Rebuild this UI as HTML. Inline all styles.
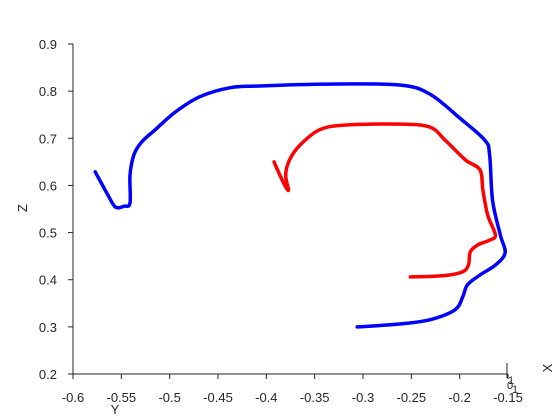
<!DOCTYPE html>
<html><head><meta charset="utf-8"><style>
body{margin:0;background:#fff;}
svg{display:block;font-family:"Liberation Sans",sans-serif;}
text{fill:#262626;font-size:13px;}
</style></head><body>
<svg id="chart" width="560" height="420" viewBox="0 0 560 420" xmlns="http://www.w3.org/2000/svg">
<g id="axes"></g>
<g id="series"></g>
<text x="0" y="0" transform="translate(27,208) rotate(-90)" text-anchor="middle">Z</text>
<text x="115" y="414" text-anchor="middle">Y</text>
<text x="0" y="0" transform="translate(552,368) rotate(-90)" text-anchor="middle">X</text>
<line x1="507" y1="363" x2="507" y2="378" stroke="#262626" stroke-width="1"/>
<text x="508" y="384" style="font-size:11px">1</text>
<text x="507" y="389" style="font-size:11px">0</text>
<text x="512" y="393" style="font-size:11px">1</text>
</svg>
<script>
const yTicks=[0.2,0.3,0.4,0.5,0.6,0.7,0.8,0.9];
const yTickLabels=["0.2","0.3","0.4","0.5","0.6","0.7","0.8","0.9"];
const xTicks=[-0.6,-0.55,-0.5,-0.45,-0.4,-0.35,-0.3,-0.25,-0.2,-0.15];
const xTickLabels=["-0.6","-0.55","-0.5","-0.45","-0.4","-0.35","-0.3","-0.25","-0.2","-0.15"];
const blueY=[-0.577,-0.564,-0.556,-0.547,-0.541,-0.541,-0.537,-0.529,-0.515,-0.494,-0.469,-0.438,-0.407,-0.334,-0.262,-0.231,-0.200,-0.174,-0.169,-0.166,-0.158,-0.153,-0.163,-0.179,-0.192,-0.197,-0.205,-0.231,-0.262,-0.306];
const blueZ=[0.629,0.580,0.554,0.556,0.563,0.622,0.665,0.692,0.718,0.756,0.788,0.807,0.811,0.815,0.813,0.794,0.743,0.696,0.665,0.569,0.495,0.457,0.431,0.410,0.389,0.363,0.336,0.315,0.306,0.300];
const redY=[-0.392,-0.386,-0.381,-0.377,-0.380,-0.376,-0.365,-0.345,-0.319,-0.262,-0.231,-0.215,-0.194,-0.179,-0.176,-0.171,-0.163,-0.169,-0.181,-0.189,-0.191,-0.198,-0.220,-0.251];
const redZ=[0.650,0.622,0.601,0.590,0.622,0.654,0.686,0.718,0.728,0.730,0.724,0.696,0.654,0.633,0.590,0.537,0.495,0.484,0.474,0.459,0.431,0.416,0.408,0.406];
const NS="http://www.w3.org/2000/svg";
const X0=73,X1=508,Y0=374,Y1=44;
function sx(v){return X0+(v+0.6)/0.45*(X1-X0);}
function sy(v){return Y0-(v-0.2)/0.7*(Y0-Y1);}
const axes=document.getElementById('axes');
function mk(tag,attrs,parent){const e=document.createElementNS(NS,tag);for(const k in attrs)e.setAttribute(k,attrs[k]);parent.appendChild(e);return e;}
let l=mk('line',{x1:X0,y1:Y1,x2:X0,y2:Y0,stroke:'#262626'},axes);


l=mk('line',{x1:X0,y1:Y0,x2:X1,y2:Y0,stroke:'#262626'},axes);


yTicks.forEach((v,i)=>{
  const t=mk('line',{x1:X0-5,y1:sy(v),x2:X0,y2:sy(v),stroke:'#262626'},axes);
  
  
  const tx=mk('text',{x:X0-16,y:sy(v)+5,'text-anchor':'end'},axes);
  tx.textContent=yTickLabels[i];
  
  
});
xTicks.forEach((v,i)=>{
  const t=mk('line',{x1:sx(v),y1:Y0,x2:sx(v),y2:Y0+5,stroke:'#262626'},axes);
  
  
  const tx=mk('text',{x:sx(v),y:Y0+28,'text-anchor':'middle'},axes);
  tx.textContent=xTickLabels[i];
  
  
});
const series=document.getElementById('series');
function smoothPath(p){
  let d='M'+p[0][0].toFixed(1)+','+p[0][1].toFixed(1);
  for(let i=0;i<p.length-1;i++){
    const p0=p[Math.max(0,i-1)],p1=p[i],p2=p[i+1],p3=p[Math.min(p.length-1,i+2)];
    const c1x=p1[0]+(p2[0]-p0[0])/6,c1y=p1[1]+(p2[1]-p0[1])/6;
    const c2x=p2[0]-(p3[0]-p1[0])/6,c2y=p2[1]-(p3[1]-p1[1])/6;
    d+=' C'+c1x.toFixed(1)+','+c1y.toFixed(1)+' '+c2x.toFixed(1)+','+c2y.toFixed(1)+' '+p2[0].toFixed(1)+','+p2[1].toFixed(1);
  }
  return d;
}
function line(ys,zs,color,name){
  const pts=ys.map((v,i)=>[sx(v),sy(zs[i])]);
  const p=mk('path',{d:smoothPath(pts),fill:'none',stroke:color,'stroke-width':3.5,'stroke-linejoin':'round','stroke-linecap':'round'},series);
  
  
}
line(blueY,blueZ,'#0000ff','blue-trajectory');
line(redY,redZ,'#ff0000','red-trajectory');
</script>
</body></html>
